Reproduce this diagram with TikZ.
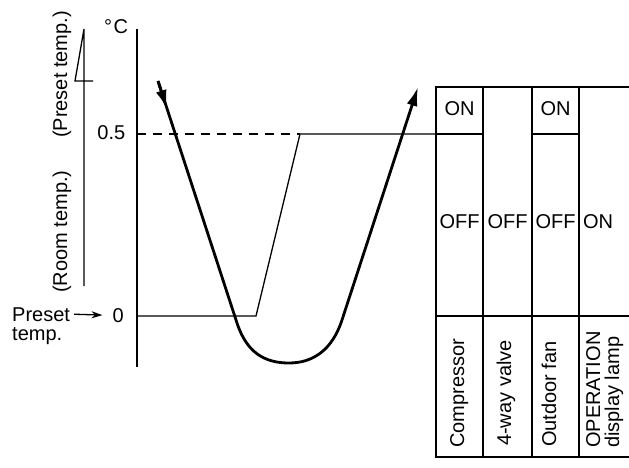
\documentclass[tikz,border=0pt]{standalone}
\usepackage{fontspec}
\setmainfont{Liberation Sans}
\usetikzlibrary{arrows.meta}
\begin{document}
\begin{tikzpicture}[x=1pt,y=-1pt,
  font=\fontsize{20}{20}\selectfont,
  thinline/.style={line width=1.3pt},
  axisline/.style={line width=1.5pt},
  curveline/.style={line width=2.8pt},
  bigtip/.style={-{Latex[length=19pt,width=11pt]}},
  lbl/.style={inner sep=0pt},
  vlbl/.style={inner sep=0pt, rotate=90, anchor=base west},
  cell/.style={inner sep=0pt, anchor=center}]
\useasboundingbox (0,0) rectangle (629,468);

% axis
\coordinate (axtop) at (137,29);
\coordinate (axbot) at (137,367);
\draw[axisline] (axtop) -- (axbot);
\node[lbl, anchor=base west] (degc) at (104,34) {°\hspace{1.5pt}C};
\node[lbl, anchor=base east] (half) at (125.5,139.5) {0.5};
\node[lbl, anchor=base east] (zero) at (124,322) {0};

% left temperature indicator
\coordinate (ltop) at (84,29);
\coordinate (lbot) at (84,286);
\coordinate (lbarb) at (75,81);
\coordinate (ltick) at (93,81);
\draw[thinline] (lbot) -- (ltop) -- (lbarb) -- (ltick);
\node[vlbl] (presetlbl) at (67,138) {(Preset temp.)};
\node[vlbl] (roomlbl) at (67,293) {(Room temp.)};

% preset temp arrow
\node[lbl, anchor=base west] (preset) at (12,321) {Preset};
\node[lbl, anchor=base west] (temp) at (12,340) {temp.};
\draw[thinline, -{Stealth[length=11pt,width=7pt]}] ([xshift=4pt]preset.east) -- ([xshift=-10pt]zero.west);

% threshold lines
\coordinate (d0) at (137,134);
\coordinate (d1) at (300,134);
\coordinate (z0) at (137,316);
\coordinate (z1) at (256,316);
\coordinate (t0) at (436,134);
\draw[thinline, dash pattern=on 9pt off 7pt] (d0) -- (d1);
\draw[thinline] (z0) -- (z1) -- (d1) -- (t0);

% temperature curve
\coordinate (c0) at (158,81);
\coordinate (c1) at (167.1,109);
\coordinate (c2) at (237,323);
\coordinate (cb) at (289,363);
\coordinate (c3) at (342,320);
\coordinate (c4) at (418,87);
\draw[curveline, bigtip] (c0) -- (c2)
  .. controls (246.8,353) and (265,363) .. (cb)
  .. controls (313,363) and (332.2,350) .. (c3) -- (c4);
\draw[curveline, bigtip] (c0) -- (c1);

% table
\coordinate (tl) at (436,87);
\coordinate (tr) at (629,87);
\coordinate (bl) at (436,457);
\coordinate (br) at (629,457);
\draw[thinline] (tr) -- (tl) -- (bl) -- (br);
\draw[thinline] (436,316) -- (629,316);
\draw[thinline] (483,87) -- (483,457);
\draw[thinline] (532,87) -- (532,457);
\draw[thinline] (579,87) -- (579,457);
\draw[thinline] (436,134) -- (483,134);
\draw[thinline] (532,134) -- (579,134);

\node[cell] (on1) at (459.5,109) {ON};
\node[cell] (on3) at (555.5,109) {ON};
\node[cell] (off1) at (459.5,222) {OFF};
\node[cell] (off2) at (507.5,222) {OFF};
\node[cell] (off3) at (555.5,222) {OFF};
\node[cell] (on4) at (598,222) {ON};

\node[vlbl] (comp) at (464,448) {Compressor};
\node[vlbl] (valve) at (511,446) {4-way valve};
\node[vlbl] (fan) at (556,447) {Outdoor fan};
\node[vlbl] (lamp1) at (600,448) {OPERATION};
\node[vlbl] (lamp2) at (619,448) {display lamp};
\end{tikzpicture}
\end{document}
